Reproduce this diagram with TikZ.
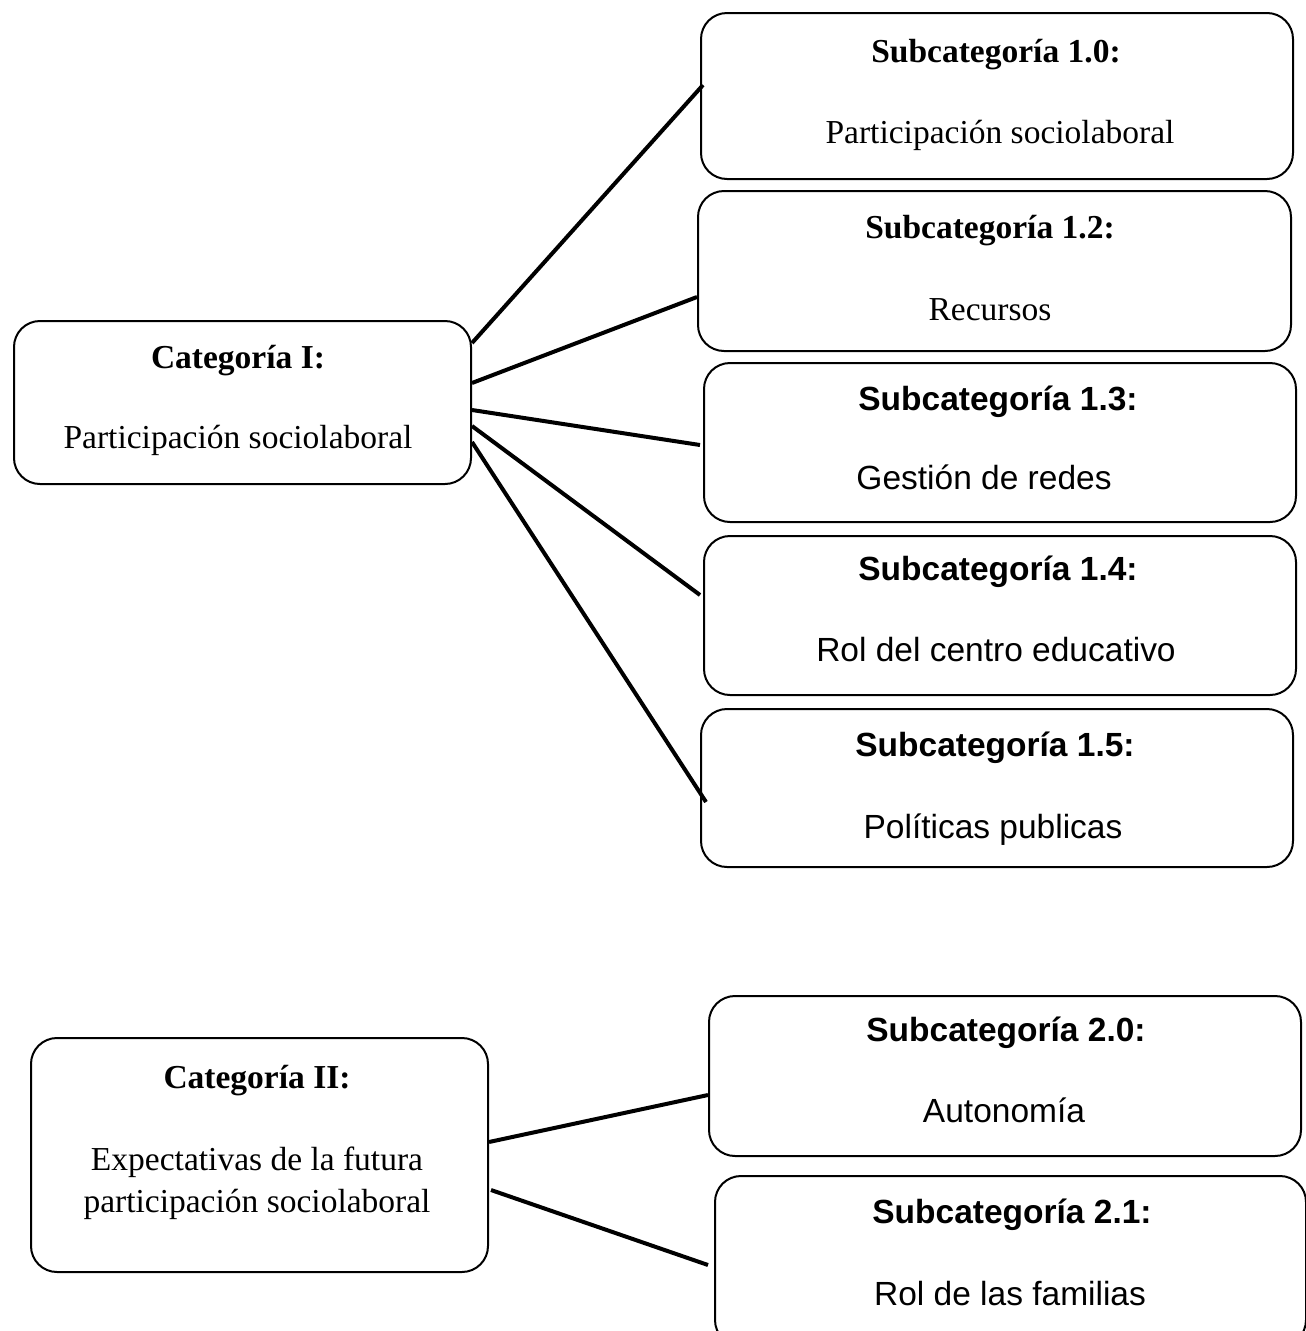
\documentclass[tikz,border=0pt]{standalone}
\usepackage{fontspec}
\setmainfont{Liberation Serif}
\newfontfamily\arialf{Liberation Sans}
\begin{document}
\begin{tikzpicture}[x=1pt,y=-1pt,
  box/.style={draw=black,line width=2pt,rounded corners=26pt,rectangle,anchor=north west,inner sep=0pt},
  txt/.style={anchor=base,inner sep=0pt,font=\fontsize{33.5}{42}\selectfont},
  stxt/.style={anchor=base,inner sep=0pt,font=\arialf\fontsize{33.5}{42}\selectfont},
  link/.style={draw=black,line width=4pt}]
\useasboundingbox (0,0) rectangle (1306,1331);
\clip (0,0) rectangle (1306,1331);
% boxes
\node[box,minimum width=457pt,minimum height=163pt] (catI) at (13,320) {};
\node[box,minimum width=592pt,minimum height=166pt] (s10) at (700,12) {};
\node[box,minimum width=593pt,minimum height=160pt] (s12) at (697,190) {};
\node[box,minimum width=592pt,minimum height=159pt] (s13) at (703,362) {};
\node[box,minimum width=592pt,minimum height=159pt] (s14) at (703,535) {};
\node[box,minimum width=592pt,minimum height=158pt] (s15) at (700,708) {};
\node[box,minimum width=457pt,minimum height=234pt] (catII) at (30,1037) {};
\node[box,minimum width=592pt,minimum height=160pt] (s20) at (708,995) {};
\node[box,minimum width=591pt,minimum height=170pt] (s21) at (714,1175) {};
% texts
\node[txt] (tI1) at (238,368) {\textbf{Categoría I:}};
\node[txt] (tI2) at (238,448) {Participación sociolaboral};
\node[txt] (t101) at (996,62) {\textbf{Subcategoría 1.0:}};
\node[txt] (t102) at (1000,143) {Participación sociolaboral};
\node[txt] (t121) at (990,238) {\textbf{Subcategoría 1.2:}};
\node[txt] (t122) at (990,320) {Recursos};
\node[stxt] (t131) at (998,410) {\textbf{Subcategoría 1.3:}};
\node[stxt] (t132) at (984,489) {Gestión de redes};
\node[stxt] (t141) at (998,580) {\textbf{Subcategoría 1.4:}};
\node[stxt] (t142) at (996,661) {Rol del centro educativo};
\node[stxt] (t151) at (995,756) {\textbf{Subcategoría 1.5:}};
\node[stxt] (t152) at (993,838) {Políticas publicas};
\node[txt] (tII1) at (257,1088) {\textbf{Categoría II:}};
\node[txt] (tII2) at (257,1170) {Expectativas de la futura};
\node[txt] (tII3) at (257,1212) {participación sociolaboral};
\node[stxt] (t201) at (1006,1041) {\textbf{Subcategoría 2.0:}};
\node[stxt] (t202) at (1004,1122) {Autonomía};
\node[stxt] (t211) at (1012,1223) {\textbf{Subcategoría 2.1:}};
\node[stxt] (t212) at (1010,1305) {Rol de las familias};
% connectors
\draw[link] ([yshift=-23pt]catI.north east) -- ([xshift=3pt,yshift=-73pt]s10.north west);
\draw[link] ([yshift=-63pt]catI.north east) -- ([yshift=-107pt]s12.north west);
\draw[link] ([yshift=-90pt]catI.north east) -- ([xshift=-3pt,yshift=-83pt]s13.north west);
\draw[link] ([yshift=-106pt]catI.north east) -- ([xshift=-3pt,yshift=-60pt]s14.north west);
\draw[link] ([yshift=-122pt]catI.north east) -- ([xshift=6pt,yshift=-94pt]s15.north west);
\draw[link] ([yshift=-105pt]catII.north east) -- ([yshift=-100pt]s20.north west);
\draw[link] ([xshift=2pt,yshift=-153pt]catII.north east) -- ([xshift=-6pt,yshift=-90pt]s21.north west);
\end{tikzpicture}
\end{document}
